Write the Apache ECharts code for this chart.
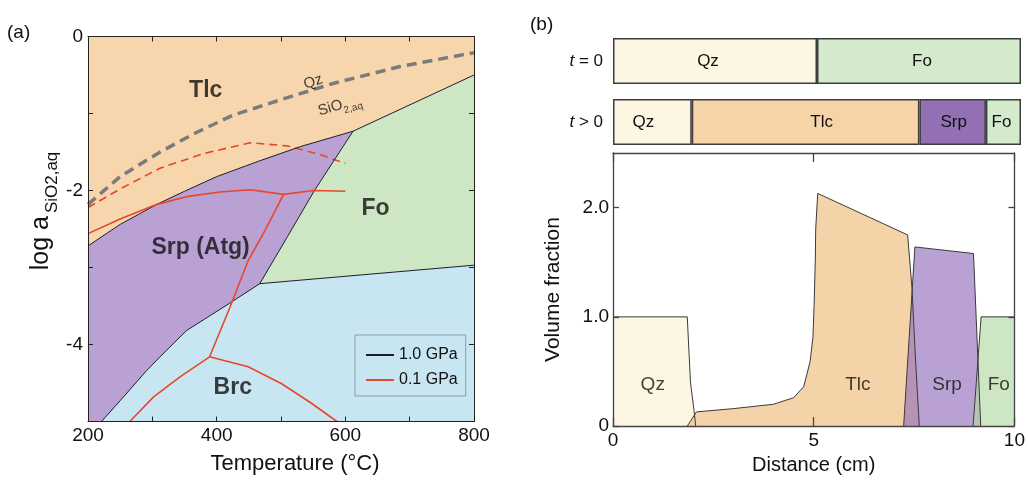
<!DOCTYPE html>
<html>
<head>
<meta charset="utf-8">
<script src="https://cdn.jsdelivr.net/npm/echarts@6/dist/echarts.min.js"></script>
<style>
  html, body { margin: 0; padding: 0; background: #fff; }
  #chart { width: 1028px; height: 480px; }
</style>
</head>
<body>
<div id="chart"></div>
<script>
// ---------- (a) log aSiO2,aq – temperature diagram ----------
// 1.0 GPa phase boundaries, [T (°C), log aSiO2,aq]
const bndTlcSrp = [[200, -2.72], [250, -2.44], [307, -2.18], [350, -2.01], [400, -1.82], [465, -1.62], [530, -1.43], [612, -1.23]];
const bndTlcFo  = [[612, -1.23], [800, -0.50]];
const bndSrpFo  = [[612, -1.23], [552, -2.00], [510, -2.60], [467, -3.21]];
const bndFoBrc  = [[467, -3.21], [592, -3.12], [800, -2.97]];
const bndSrpBrc = [[467, -3.21], [421, -3.46], [353, -3.82], [312, -4.16], [291, -4.34], [250, -4.73], [221, -5.00]];

// 0.1 GPa boundaries
const redTlcSrp   = [[200, -2.56], [250, -2.37], [307, -2.18], [353, -2.08], [405, -2.02], [452, -1.99], [504, -2.05]];
const redTlcFo    = [[504, -2.05], [550, -2.00], [600, -2.01]];
const redSrpBrc   = [[504, -2.05], [475, -2.52], [449, -2.91], [421, -3.51], [389, -4.16]];
const redBrcLeft  = [[389, -4.16], [343, -4.42], [302, -4.68], [265, -5.00]];
const redBrcRight = [[389, -4.16], [449, -4.29], [501, -4.51], [545, -4.75], [587, -5.00]];
const redMetastable = [[200, -2.22], [250, -1.98], [312, -1.71], [380, -1.52], [452, -1.38], [509, -1.42], [560, -1.53], [600, -1.65]];

// quartz saturation
const qzSaturation = [[200, -2.18], [250, -1.82], [312, -1.50], [370, -1.24], [426, -1.02], [500, -0.82], [581, -0.61], [685, -0.39], [800, -0.21]];

// ---------- (b) reaction zone across a 10 cm column ----------
const stripT0Phases = ['Qz', 'Fo'];
const stripT0Widths = [5, 5];
const stripT1Phases = ['Qz', 'Tlc', 'Srp', 'Fo'];
const stripT1Widths = [1.93, 5.58, 1.63, 0.86];

// volume fraction profiles, [distance (cm), fraction]
const profQz  = [[0, 1.0], [1.85, 1.0], [1.93, 0.40], [2.02, 0.14], [2.06, 0]];
const profTlc = [[1.85, 0], [2.08, 0.13], [3.0, 0.16], [4.0, 0.20], [4.5, 0.26], [4.75, 0.36], [4.91, 0.59], [4.98, 0.81],
                 [5.01, 1.11], [5.04, 1.53], [5.05, 1.81], [5.10, 2.13], [7.34, 1.75], [7.45, 1.25], [7.53, 0.65], [7.63, 0]];
const profSrp = [[7.24, 0], [7.52, 1.64], [8.98, 1.58], [9.16, 0]];
const profFo  = [[8.97, 0], [9.17, 1.0], [10, 1.0]];

// tick positions of the profile plot
const distTicks = [0, 5, 10];
const fracTicks = [0, 1, 2];

// ---------- styling ----------
const FONT = "'Liberation Sans', Arial, Helvetica, sans-serif";
const INK = '#111';
const phaseFill = { Tlc: '#f7d6ad', Srp: '#b9a2d3', Fo: '#cde6c4', Brc: '#c8e6f1' };
const stripFill = { Qz: '#fdf6e3', Tlc: '#f6d4a8', Srp: '#9370b4', Fo: '#d3eacc' };
const areaFill  = { Qz: '#fcf1d4', Tlc: '#f0bb79', Srp: '#936ebb', Fo: '#b2d9a4' };
const BLACK = '#1c1c2c';
const RED = '#e8462a';

// stability fields assembled from the boundary curves
const rev = a => a.slice().reverse();
const fieldNames = ['Tlc', 'Srp', 'Fo', 'Brc'];
const fieldPolys = [
  [[200, 0], [800, 0]].concat(rev(bndTlcFo), rev(bndTlcSrp)),
  bndTlcSrp.concat(bndSrpFo, bndSrpBrc, [[200, -5]]),
  bndTlcFo.concat(rev(bndFoBrc), rev(bndSrpFo)),
  bndFoBrc.concat([[800, -5]], rev(bndSrpBrc))
];

const fieldLabels = [
  { text: 'Tlc', at: [383, -0.70] },
  { text: 'Fo', at: [647, -2.23] },
  { text: 'Srp (Atg)', at: [375, -2.74] },
  { text: 'Brc', at: [425, -4.56] }
];

function lineSeries(name, data, color, width, type, xi, yi) {
  return {
    type: 'line', name: name, data: data, xAxisIndex: xi, yAxisIndex: yi,
    symbol: 'none', smooth: false, animation: false, z: 3,
    lineStyle: { color: color, width: width, type: type || 'solid' },
    itemStyle: { color: color }
  };
}

function areaSeries(name, data) {
  return {
    type: 'line', name: name, data: data, xAxisIndex: 4, yAxisIndex: 4,
    symbol: 'none', animation: false,
    lineStyle: { color: '#3a3a3a', width: 1 },
    areaStyle: { color: areaFill[name], opacity: 0.65 }
  };
}

function stripSeries(phases, widths, stackId, xi, yi, offsets) {
  return phases.map((p, i) => ({
    type: 'bar', name: p, stack: stackId, xAxisIndex: xi, yAxisIndex: yi,
    barWidth: '100%', animation: false,
    data: [widths[i]],
    itemStyle: { color: stripFill[p], borderColor: '#3d3d3d', borderWidth: 1.5 },
    label: {
      show: true, position: 'inside', formatter: p, fontSize: 17, fontFamily: FONT, color: INK,
      offset: offsets ? offsets[i] : [0, 0]
    }
  }));
}

const axisBase = {
  splitLine: { show: false },
  axisLine: { show: true, onZero: false, lineStyle: { color: '#222', width: 1 } },
  axisTick: { show: true, inside: true, length: 5, lineStyle: { color: '#222', width: 1 } },
  z: 6
};
const lbl = (fmt, margin) => ({ formatter: fmt, fontSize: 19, color: INK, fontFamily: FONT, margin: margin });
const frameB = { show: true, onZero: false, lineStyle: { color: '#444', width: 1.3 } };
const tickB = len => ({ show: true, inside: true, length: len, lineStyle: { color: '#444', width: 1.3 } });

const xAxes = [
  // (a)
  Object.assign({}, axisBase, {
    gridIndex: 0, type: 'value', min: 200, max: 800, interval: 100,
    axisLabel: lbl(v => (v % 200 === 0 ? String(v) : ''), 5),
    name: 'Temperature (°C)', nameLocation: 'middle', nameGap: 31,
    nameTextStyle: { fontSize: 22, color: INK, fontFamily: FONT, padding: [0, 0, 0, 28] }
  }),
  Object.assign({}, axisBase, {
    gridIndex: 0, type: 'value', min: 200, max: 800, interval: 100, position: 'top',
    axisLabel: { show: false }
  }),
  // (b) strips
  { gridIndex: 1, type: 'value', min: 0, max: 10, show: false },
  { gridIndex: 2, type: 'value', min: 0, max: 10, show: false },
  // (b) profile plot
  Object.assign({}, axisBase, {
    gridIndex: 3, type: 'value', min: 0, max: 10, interval: 5,
    axisLine: frameB,
    axisTick: Object.assign(tickB(9), { customValues: distTicks }),
    axisLabel: Object.assign(lbl(v => String(v), 5), { customValues: distTicks }),
    name: 'Distance (cm)', nameLocation: 'middle', nameGap: 27,
    nameTextStyle: { fontSize: 20, color: INK, fontFamily: FONT }
  }),
  Object.assign({}, axisBase, {
    gridIndex: 3, type: 'value', min: 0, max: 10, interval: 5, position: 'top',
    axisLine: frameB,
    axisTick: Object.assign(tickB(9), { customValues: distTicks }),
    axisLabel: { show: false }
  })
];

const yAxes = [
  Object.assign({}, axisBase, {
    gridIndex: 0, type: 'value', min: -5, max: 0, interval: 1,
    axisLabel: lbl(v => (v % 2 === 0 ? String(v) : ''), 5),
    name: '{n|log a}{s|SiO2,aq}', nameLocation: 'middle', nameRotate: 90, nameGap: 27,
    nameTextStyle: {
      fontFamily: FONT, color: INK, padding: [0, 0, 0, 36],
      rich: {
        n: { fontSize: 25, fontFamily: FONT, color: INK, verticalAlign: 'bottom', padding: [0, 0, 7, 0] },
        s: { fontSize: 17, fontFamily: FONT, color: INK, verticalAlign: 'bottom', padding: [0, 0, 0, 3] }
      }
    }
  }),
  Object.assign({}, axisBase, {
    gridIndex: 0, type: 'value', min: -5, max: 0, interval: 1, position: 'right',
    axisLabel: { show: false }
  }),
  {
    gridIndex: 1, type: 'category', data: ['t0'],
    axisLine: { show: false }, axisTick: { show: false },
    axisLabel: {
      margin: 10, formatter: () => '{i|t}{n| = 0}',
      rich: { i: { fontSize: 17, fontStyle: 'italic', fontFamily: FONT, color: INK }, n: { fontSize: 17, fontFamily: FONT, color: INK } }
    }
  },
  {
    gridIndex: 2, type: 'category', data: ['t1'],
    axisLine: { show: false }, axisTick: { show: false },
    axisLabel: {
      margin: 10, formatter: () => '{i|t}{n| > 0}',
      rich: { i: { fontSize: 17, fontStyle: 'italic', fontFamily: FONT, color: INK }, n: { fontSize: 17, fontFamily: FONT, color: INK } }
    }
  },
  Object.assign({}, axisBase, {
    gridIndex: 3, type: 'value', min: 0, max: 2.5, interval: 1,
    axisLine: frameB,
    axisTick: Object.assign(tickB(6), { customValues: fracTicks }),
    axisLabel: Object.assign(lbl(v => (v === 0 ? '0' : v.toFixed(1)), 4), { customValues: fracTicks }),
    name: 'Volume fraction', nameLocation: 'middle', nameRotate: 90, nameGap: 49,
    nameTextStyle: { fontSize: 21, color: INK, fontFamily: FONT }
  }),
  Object.assign({}, axisBase, {
    gridIndex: 3, type: 'value', min: 0, max: 2.5, interval: 1, position: 'right',
    axisLine: frameB,
    axisTick: Object.assign(tickB(6), { customValues: fracTicks }),
    axisLabel: { show: false }
  })
];

const series = [];

// stability fields
series.push({
  type: 'custom', name: 'fields', xAxisIndex: 0, yAxisIndex: 0, clip: true, animation: false, z: 1,
  data: fieldNames.map((n, i) => ({ name: n, value: [i] })),
  renderItem: (params, api) => {
    const pts = fieldPolys[params.dataIndex].map(p => api.coord(p));
    return { type: 'polygon', shape: { points: pts }, style: { fill: phaseFill[fieldNames[params.dataIndex]] } };
  }
});

// quartz saturation and 0.1 GPa metastable extension
series.push(lineSeries('Qz saturation', qzSaturation, '#7b7b7b', 3.5, [10, 6], 0, 0));
series.push(lineSeries('0.1 GPa metastable', redMetastable, RED, 1.6, [8, 5], 0, 0));

// 1.0 GPa boundaries
[bndTlcSrp, bndTlcFo, bndSrpFo, bndFoBrc, bndSrpBrc].forEach(d => series.push(lineSeries('1.0 GPa', d, BLACK, 1, 'solid', 0, 0)));
// 0.1 GPa boundaries
[redTlcSrp, redTlcFo, redSrpBrc, redBrcLeft, redBrcRight].forEach(d => series.push(lineSeries('0.1 GPa', d, RED, 1.6, 'solid', 0, 0)));

// field names
series.push({
  type: 'scatter', name: 'field names', xAxisIndex: 0, yAxisIndex: 0, symbolSize: 0, animation: false, z: 4,
  data: fieldLabels.map(f => ({ value: f.at, name: f.text })),
  label: { show: true, position: 'inside', formatter: p => p.name, fontSize: 23, fontWeight: 'bold', fontFamily: FONT, color: INK }
});
// saturation curve labels
series.push({
  type: 'scatter', name: 'curve names', xAxisIndex: 0, yAxisIndex: 0, symbolSize: 0, animation: false, z: 4,
  data: [
    { value: [550, -0.59], name: 'Qz', label: { rotate: 19, formatter: 'Qz' } },
    { value: [592, -0.92], name: 'SiO2,aq', label: { rotate: 16, formatter: '{a|SiO}{b|2,aq}' } }
  ],
  label: {
    show: true, position: 'inside', fontSize: 15, fontFamily: FONT, color: INK,
    rich: {
      a: { fontSize: 15, fontFamily: FONT, color: INK, verticalAlign: 'bottom', padding: [0, 0, 4, 0] },
      b: { fontSize: 10, fontFamily: FONT, color: INK, verticalAlign: 'bottom' }
    }
  }
});

// strips
stripSeries(stripT0Phases, stripT0Widths, 't0', 2, 2, [[-7, 0], [3, 0]]).forEach(s => series.push(s));
stripSeries(stripT1Phases, stripT1Widths, 't1', 3, 3, [[-9, 0], [16, 0], [1, 0], [-2, 0]]).forEach(s => series.push(s));

// volume fraction profiles
series.push(areaSeries('Qz', profQz));
series.push(areaSeries('Tlc', profTlc));
series.push(areaSeries('Srp', profSrp));
series.push(areaSeries('Fo', profFo));
series.push({
  type: 'scatter', name: 'profile names', xAxisIndex: 4, yAxisIndex: 4, symbolSize: 0, animation: false, z: 4,
  data: [
    { value: [0.99, 0.38], name: 'Qz' },
    { value: [6.10, 0.38], name: 'Tlc' },
    { value: [8.32, 0.38], name: 'Srp' },
    { value: [9.61, 0.38], name: 'Fo' }
  ],
  label: { show: true, position: 'inside', formatter: p => p.name, fontSize: 19, fontFamily: FONT, color: INK }
});

const chart = echarts.init(document.getElementById('chart'), null, { renderer: 'canvas' });
chart.setOption({
  backgroundColor: '#fff',
  animation: false,
  textStyle: { fontFamily: FONT },
  grid: [
    { left: 88, top: 36.5, width: 386, height: 385 },
    { left: 613, top: 38, width: 408, height: 46 },
    { left: 613, top: 99, width: 408, height: 46 },
    { left: 613, top: 153, width: 408, height: 279 }
  ],
  legend: {
    data: ['1.0 GPa', '0.1 GPa'], orient: 'vertical', left: 355, top: 335,
    padding: [12, 8, 8, 10], itemWidth: 28, itemHeight: 14, itemGap: 9, selectedMode: false,
    itemStyle: { opacity: 0 },
    borderColor: '#8c9ca3', borderWidth: 1, backgroundColor: 'transparent',
    textStyle: { fontSize: 16, fontFamily: FONT, color: INK }
  },
  graphic: [
    { type: 'text', left: 7, top: 23, style: { text: '(a)', fontSize: 19, fontFamily: FONT, fill: INK } },
    { type: 'text', left: 530, top: 15, style: { text: '(b)', fontSize: 19, fontFamily: FONT, fill: INK } }
  ],
  xAxis: xAxes,
  yAxis: yAxes,
  series: series
});
</script>
</body>
</html>
